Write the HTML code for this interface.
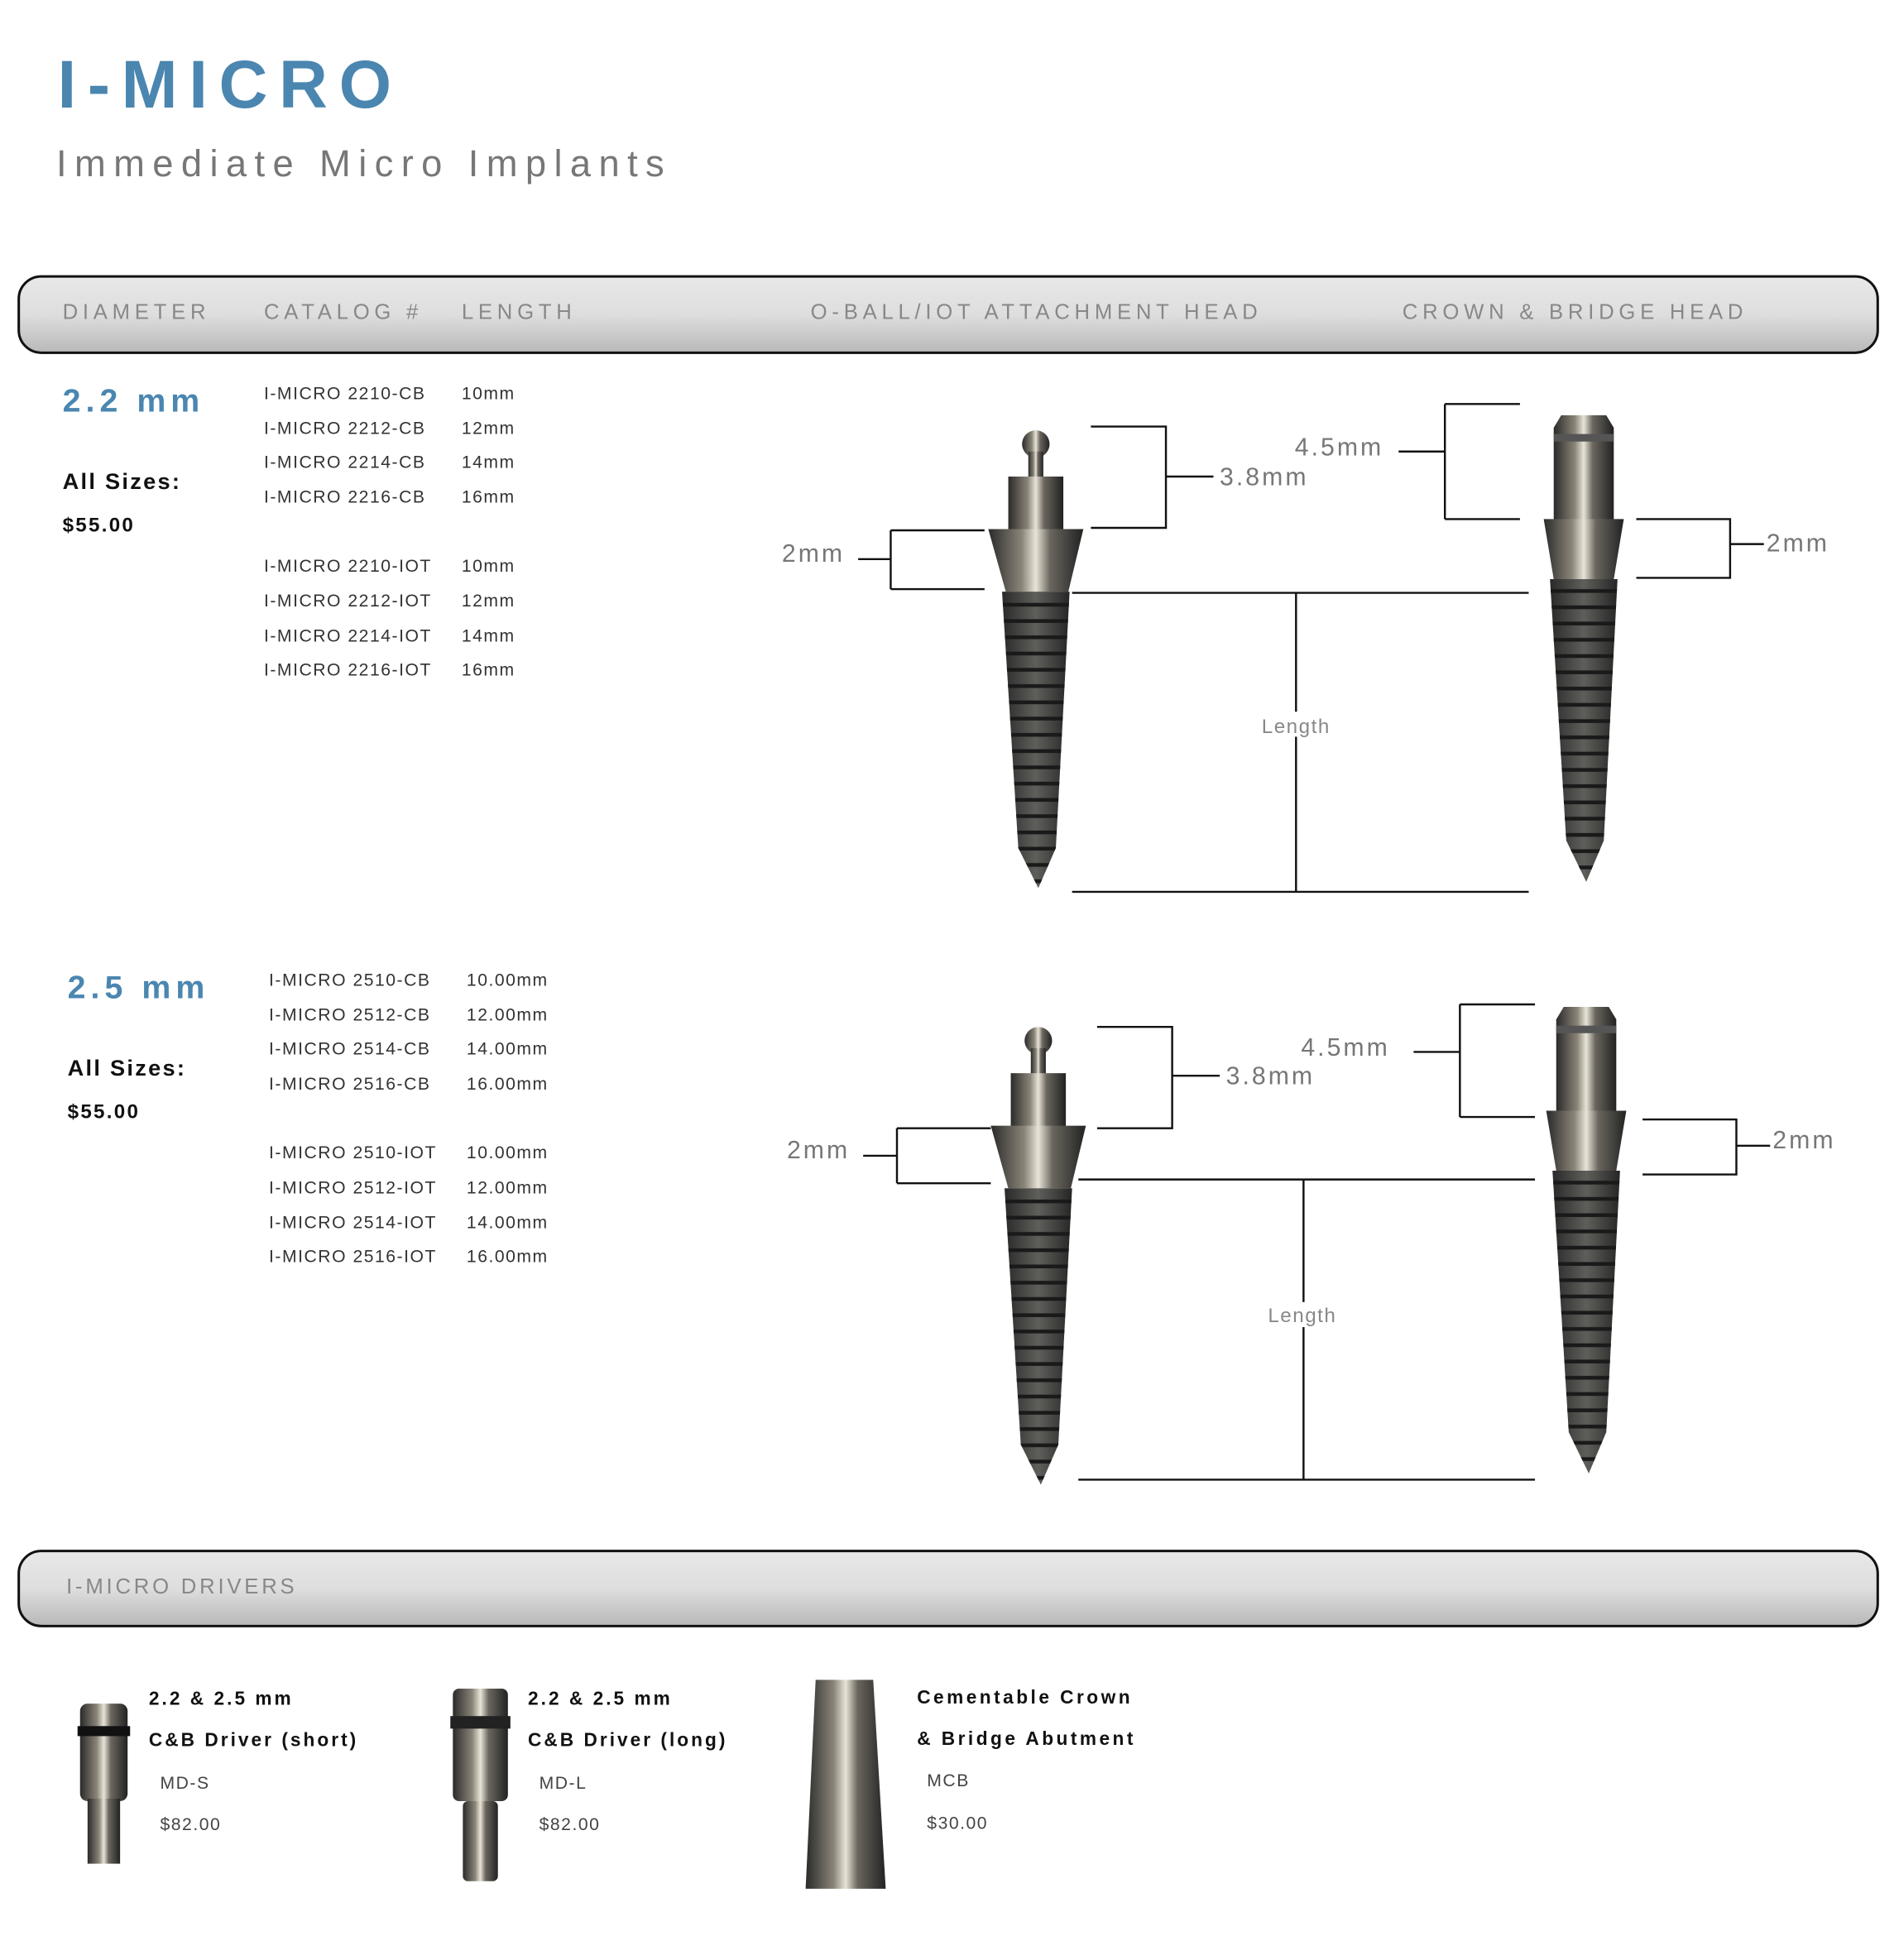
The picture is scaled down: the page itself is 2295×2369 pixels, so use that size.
<!DOCTYPE html>
<html><head><meta charset="utf-8"><style>
html,body{margin:0;padding:0;background:#fff;width:2295px;height:2369px;overflow:hidden}
svg{display:block}
text{font-family:"Liberation Sans",sans-serif}
.cat{font-size:14px;fill:#333;letter-spacing:1px}
.dim{font-size:20px;fill:#777;letter-spacing:2px}
.hd{font-size:17px;fill:#888;letter-spacing:3.8px}
.ln{stroke:#111;stroke-width:1.6;fill:none}
.bold{font-weight:bold;fill:#111}
</style></head><body>
<svg width="2295" height="2369" viewBox="0 0 1518 1567" preserveAspectRatio="none" xmlns="http://www.w3.org/2000/svg">
<defs>
<linearGradient id="bar" x1="0" y1="0" x2="0" y2="1"><stop offset="0" stop-color="#e8e8e8"/><stop offset="0.5" stop-color="#dedede"/><stop offset="1" stop-color="#b8b8b8"/></linearGradient>
<linearGradient id="met" x1="0" y1="0" x2="1" y2="0"><stop offset="0" stop-color="#2a2a2a"/><stop offset="0.35" stop-color="#8a8478"/><stop offset="0.5" stop-color="#e8e4d8"/><stop offset="0.65" stop-color="#6a665e"/><stop offset="1" stop-color="#222"/></linearGradient>
<linearGradient id="thr" x1="0" y1="0" x2="1" y2="0"><stop offset="0" stop-color="#2a2a2a"/><stop offset="0.5" stop-color="#5e5e5a"/><stop offset="1" stop-color="#262626"/></linearGradient>
<pattern id="tp" width="20" height="13" patternUnits="userSpaceOnUse"><rect y="9" width="20" height="3" fill="#1a1a1a"/></pattern>
<g id="ball">
<circle cx="0" cy="12" r="11" fill="url(#met)"/>
<rect x="-6" y="18" width="12" height="22" fill="url(#met)"/>
<rect x="-22" y="38" width="44" height="43" fill="url(#met)"/>
<polygon points="-38,80 38,80 26,130 -24,130" fill="url(#met)"/>
<polygon points="-27,130 27,130 16,335 2,367 -14,335" fill="url(#thr)"/>
<polygon points="-27,130 27,130 16,335 2,367 -14,335" fill="url(#tp)"/>
</g>
<g id="cb">
<polygon points="-18,0 18,0 24,10 24,84 -24,84 -24,10" fill="url(#met)"/>
<rect x="-24" y="15" width="48" height="6" fill="#555"/>
<polygon points="-32,83 32,83 24,131 -24,131" fill="url(#met)"/>
<polygon points="-27,131 27,131 16,340 2,373 -14,340" fill="url(#thr)"/>
<polygon points="-27,131 27,131 16,340 2,373 -14,340" fill="url(#tp)"/>
</g>
</defs>
<text x="46" y="86" font-size="54" font-weight="bold" fill="#4a86b0" letter-spacing="9">I-MICRO</text>
<text x="45" y="141" font-size="30" fill="#777" letter-spacing="6.2">Immediate Micro Implants</text>

<rect x="15" y="221" width="1486" height="61" rx="18" fill="url(#bar)" stroke="#111" stroke-width="2"/>
<text class="hd" x="50" y="255">DIAMETER</text>
<text class="hd" x="211" y="255">CATALOG #</text>
<text class="hd" x="369" y="255">LENGTH</text>
<text class="hd" x="648" y="255">O-BALL/IOT ATTACHMENT HEAD</text>
<text class="hd" x="1121" y="255">CROWN &amp; BRIDGE HEAD</text>

<!-- 2.2 -->
<text x="50" y="329" font-size="26" font-weight="bold" fill="#4a86b0" letter-spacing="4">2.2 mm</text>
<text x="50" y="391" font-size="18" class="bold" letter-spacing="1.5">All Sizes:</text>
<text x="50" y="425" font-size="16" class="bold" letter-spacing="1.5">$55.00</text>
<g class="cat">
<text x="211" y="319">I-MICRO 2210-CB</text><text x="369" y="319">10mm</text>
<text x="211" y="347">I-MICRO 2212-CB</text><text x="369" y="347">12mm</text>
<text x="211" y="374">I-MICRO 2214-CB</text><text x="369" y="374">14mm</text>
<text x="211" y="402">I-MICRO 2216-CB</text><text x="369" y="402">16mm</text>
<text x="211" y="457">I-MICRO 2210-IOT</text><text x="369" y="457">10mm</text>
<text x="211" y="485">I-MICRO 2212-IOT</text><text x="369" y="485">12mm</text>
<text x="211" y="513">I-MICRO 2214-IOT</text><text x="369" y="513">14mm</text>
<text x="211" y="540">I-MICRO 2216-IOT</text><text x="369" y="540">16mm</text>
</g>
<use href="#ball" x="828" y="343"/>
<use href="#cb" x="1266" y="332"/>
<path class="ln" d="M686 447H712M712 424V471M712 424H787M712 471H787"/>
<text class="dim" x="625" y="449">2mm</text>
<path class="ln" d="M872 341H932V422H872M932 381H970"/>
<text class="dim" x="975" y="388">3.8mm</text>
<path class="ln" d="M1118 361H1155M1155 323V415M1155 323H1215M1155 415H1215"/>
<text class="dim" x="1035" y="364">4.5mm</text>
<path class="ln" d="M1308 415H1383V462H1308M1383 435H1410"/>
<text class="dim" x="1412" y="441">2mm</text>
<path class="ln" d="M857 474H1222M1036 474V713M857 713H1222"/>
<rect x="1004" y="569" width="64" height="20" fill="#fff"/>
<text x="1036" y="586" font-size="16" fill="#888" letter-spacing="1" text-anchor="middle">Length</text>

<!-- 2.5 -->
<text x="54" y="798" font-size="26" font-weight="bold" fill="#4a86b0" letter-spacing="4">2.5 mm</text>
<text x="54" y="860" font-size="18" class="bold" letter-spacing="1.5">All Sizes:</text>
<text x="54" y="894" font-size="16" class="bold" letter-spacing="1.5">$55.00</text>
<g class="cat">
<text x="215" y="788">I-MICRO 2510-CB</text><text x="373" y="788">10.00mm</text>
<text x="215" y="816">I-MICRO 2512-CB</text><text x="373" y="816">12.00mm</text>
<text x="215" y="843">I-MICRO 2514-CB</text><text x="373" y="843">14.00mm</text>
<text x="215" y="871">I-MICRO 2516-CB</text><text x="373" y="871">16.00mm</text>
<text x="215" y="926">I-MICRO 2510-IOT</text><text x="373" y="926">10.00mm</text>
<text x="215" y="954">I-MICRO 2512-IOT</text><text x="373" y="954">12.00mm</text>
<text x="215" y="982">I-MICRO 2514-IOT</text><text x="373" y="982">14.00mm</text>
<text x="215" y="1009">I-MICRO 2516-IOT</text><text x="373" y="1009">16.00mm</text>
</g>
<use href="#ball" x="830" y="820"/>
<use href="#cb" x="1268" y="805"/>
<path class="ln" d="M690 924H717M717 902V946M717 902H792M717 946H792"/>
<text class="dim" x="629" y="926">2mm</text>
<path class="ln" d="M877 821H937V902H877M937 860H975"/>
<text class="dim" x="980" y="867">3.8mm</text>
<path class="ln" d="M1130 841H1167M1167 803V893M1167 803H1227M1167 893H1227"/>
<text class="dim" x="1040" y="844">4.5mm</text>
<path class="ln" d="M1313 895H1388V939H1313M1388 916H1415"/>
<text class="dim" x="1417" y="918">2mm</text>
<path class="ln" d="M862 943H1227M1042 943V1183M862 1183H1227"/>
<rect x="1009" y="1041" width="64" height="20" fill="#fff"/>
<text x="1041" y="1057" font-size="16" fill="#888" letter-spacing="1" text-anchor="middle">Length</text>

<!-- drivers -->
<rect x="15" y="1240" width="1486" height="60" rx="18" fill="url(#bar)" stroke="#111" stroke-width="2"/>
<text x="53" y="1274" font-size="17" fill="#888" letter-spacing="2.5">I-MICRO DRIVERS</text>

<rect x="64" y="1362" width="38" height="78" rx="6" fill="url(#met)"/>
<rect x="62" y="1380" width="42" height="8" fill="#111"/>
<rect x="70" y="1438" width="26" height="52" fill="url(#met)"/>
<text x="119" y="1363" font-size="15" class="bold" letter-spacing="2">2.2 &amp; 2.5 mm</text>
<text x="119" y="1396" font-size="15" class="bold" letter-spacing="2">C&amp;B Driver (short)</text>
<text x="128" y="1430" font-size="14" fill="#444" letter-spacing="1">MD-S</text>
<text x="128" y="1463" font-size="14" fill="#444" letter-spacing="1">$82.00</text>

<rect x="362" y="1350" width="44" height="90" rx="5" fill="url(#met)"/>
<rect x="360" y="1372" width="48" height="10" fill="#222"/>
<rect x="370" y="1440" width="28" height="64" rx="4" fill="url(#met)"/>
<text x="422" y="1363" font-size="15" class="bold" letter-spacing="2">2.2 &amp; 2.5 mm</text>
<text x="422" y="1396" font-size="15" class="bold" letter-spacing="2">C&amp;B Driver (long)</text>
<text x="431" y="1430" font-size="14" fill="#444" letter-spacing="1">MD-L</text>
<text x="431" y="1463" font-size="14" fill="#444" letter-spacing="1">$82.00</text>

<polygon points="652,1343 698,1343 708,1510 644,1510" fill="url(#met)"/>
<text x="733" y="1362" font-size="15" class="bold" letter-spacing="2.3">Cementable Crown</text>
<text x="733" y="1395" font-size="15" class="bold" letter-spacing="2.3">&amp; Bridge Abutment</text>
<text x="741" y="1428" font-size="14" fill="#444" letter-spacing="1">MCB</text>
<text x="741" y="1462" font-size="14" fill="#444" letter-spacing="1">$30.00</text>
</svg>
</body></html>
